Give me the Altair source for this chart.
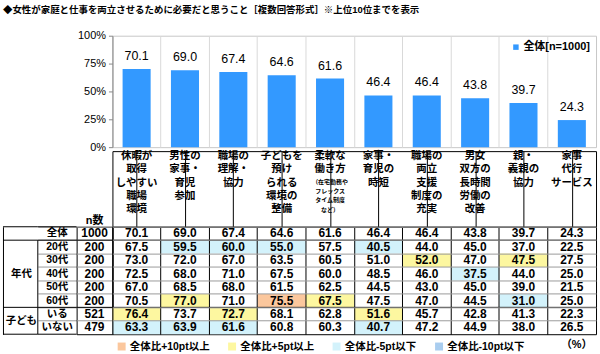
import altair as alt
import pandas as pd

FONT = "Liberation Sans, Noto Sans CJK JP, sans-serif"

title_text = "◆女性が家庭と仕事を両立させるために必要だと思うこと［複数回答形式］※上位10位までを表示"

items = ["休暇が取得しやすい職場環境", "男性の家事・育児参加", "職場の理解・協力",
         "子どもを預けられる環境の整備", "柔軟な働き方", "家事・育児の時短",
         "職場の両立支援制度の充実", "男女双方の長時間労働の改善", "親・義親の協力",
         "家事代行サービス"]
header_labels = ["休暇が\n取得\nしやすい\n職場\n環境", "男性の\n家事・\n育児\n参加", "職場の\n理解・\n協力",
                 "子どもを\n預け\nられる\n環境の\n整備", "柔軟な\n働き方", "家事・\n育児の\n時短",
                 "職場の\n両立\n支援\n制度の\n充実", "男女\n双方の\n長時間\n労働の\n改善",
                 "親・\n義親の\n協力", "家事\n代行\nサービス"]
header_notes = ["", "", "", "", "（在宅勤務や\nフレックス\nタイム制度\nなど）", "", "", "", "", ""]

row_labels = ["全体", "20代", "30代", "40代", "50代", "60代", "いる", "いない"]
row_n = [1000, 200, 200, 200, 200, 200, 521, 479]
group_labels = ["年代", "子ども"]

v_total = [70.1, 69.0, 67.4, 64.6, 61.6, 46.4, 46.4, 43.8, 39.7, 24.3]
v_20s = [67.5, 59.5, 60.0, 55.0, 57.5, 40.5, 44.0, 45.0, 37.0, 22.5]
v_30s = [73.0, 72.0, 67.0, 63.5, 60.5, 51.0, 52.0, 47.0, 47.5, 27.5]
v_40s = [72.5, 68.0, 71.0, 67.5, 60.0, 48.5, 46.0, 37.5, 44.0, 25.0]
v_50s = [67.0, 68.5, 68.0, 61.5, 62.5, 44.5, 43.0, 45.0, 39.0, 21.5]
v_60s = [70.5, 77.0, 71.0, 75.5, 67.5, 47.5, 47.0, 44.5, 31.0, 25.0]
v_kids = [76.4, 73.7, 72.7, 68.1, 62.8, 51.6, 45.7, 42.8, 41.3, 22.3]
v_nokids = [63.3, 63.9, 61.6, 60.8, 60.3, 40.7, 47.2, 44.9, 38.0, 26.5]
table_values = [v_total, v_20s, v_30s, v_40s, v_50s, v_60s, v_kids, v_nokids]

series_label = "全体[n=1000]"
bar_color = "#3399ff"
cat_labels = ["全体比+10pt以上", "全体比+5pt以上", "全体比-5pt以下", "全体比-10pt以下"]
cat_colors = ["#fbc79d", "#fdf7a0", "#d3f2fb", "#a9cdef"]

# layout
W_G, W_S, W_N, W_D = 35, 39, 36, 486
H_BAR, H_GAP, H_HEAD, H_BODY = 112, 4, 76, 108

bar_df = pd.DataFrame({"item": items, "value": v_total, "series": series_label})

cells = []
for r, lab in enumerate(row_labels):
    for c, it in enumerate(items):
        v = table_values[r][c]
        d = round(v - v_total[c], 1)
        if d >= 10:
            cat = cat_labels[0]
        elif d >= 5:
            cat = cat_labels[1]
        elif d <= -10:
            cat = cat_labels[3]
        elif d <= -5:
            cat = cat_labels[2]
        else:
            cat = None
        cells.append({"item": it, "row": lab, "value": v, "cat": cat})
cells_df = pd.DataFrame(cells)
hl_df = cells_df[cells_df["cat"].notna()]

x_scale = alt.Scale(domain=items, paddingInner=0, paddingOuter=0)
y_scale = alt.Scale(domain=row_labels, paddingInner=0, paddingOuter=0)


def blank(w, h):
    return alt.Chart(pd.DataFrame({"t": [""]})).mark_text().encode(
        text="t:N", x=alt.value(0), y=alt.value(0)).properties(
        width=w, height=h, view=alt.ViewBackground(stroke=None))


# ---------------- bar chart ----------------
xb = alt.X("item:N", scale=x_scale,
           axis=alt.Axis(title=None, labels=False, ticks=False, domain=False, grid=True,
                         gridColor="#d9d9d9", bandPosition=0))
yb = alt.Y("value:Q", scale=alt.Scale(domain=[0, 100]),
           axis=alt.Axis(values=[0, 25, 50, 75, 100], labelExpr="datum.value + '%'", title=None,
                         grid=False, tickSize=4, domainColor="#888", tickColor="#888",
                         labelFontSize=11, labelColor="#000", labelPadding=3))
bars = alt.Chart(bar_df).mark_bar(width=alt.RelativeBandSize(0.58)).encode(
    x=xb, y=yb,
    color=alt.Color("series:N", scale=alt.Scale(domain=[series_label], range=[bar_color]),
                    legend=alt.Legend(title=None, orient="top-right", symbolType="square",
                                      symbolSize=30, symbolStrokeWidth=0, labelFontSize=11,
                                      labelFontWeight="bold", offset=6, padding=0, labelOffset=2)))
bar_text = alt.Chart(bar_df).mark_text(baseline="bottom", dy=-6, fontSize=12.5, font=FONT).encode(
    x=xb, y=yb, text=alt.Text("value:Q", format=".1f"))
bar = alt.layer(bars, bar_text).properties(width=W_D, height=H_BAR,
                                           view=alt.ViewBackground(stroke="#c8c8c8"))

# ---------------- header ----------------
head_df = pd.DataFrame({"item": items, "label": header_labels, "note": header_notes})
hx = alt.X("item:N", scale=x_scale,
           axis=alt.Axis(title=None, labels=False, ticks=False, domain=False, grid=True,
                         gridColor="#000", bandPosition=0))
head_main = alt.Chart(head_df).mark_text(baseline="top", fontSize=10.5, fontWeight="bold",
                                         lineBreak="\n", lineHeight=13.3, font=FONT).encode(
    x=hx, y=alt.value(0), text="label:N")
head_note = alt.Chart(head_df).mark_text(baseline="top", fontSize=6, fontWeight="bold",
                                         lineBreak="\n", lineHeight=9.3, font=FONT).encode(
    x=hx, y=alt.value(28), text="note:N")
head = alt.layer(head_main, head_note).properties(width=W_D, height=H_HEAD,
                                                  view=alt.ViewBackground(stroke="#000"))

nhead = alt.Chart(pd.DataFrame({"t": ["n数"]})).mark_text(
    fontSize=11, fontWeight="bold", font=FONT).encode(
    x=alt.value(W_N / 2), y=alt.value(H_HEAD - 6), text="t:N").properties(
    width=W_N, height=H_HEAD, view=alt.ViewBackground(stroke=None))


def hrule(rows, bp, axis, color="#000"):
    return alt.Chart(pd.DataFrame({"row": rows})).mark_rule(color=color, strokeWidth=1).encode(
        y=alt.Y("row:N", scale=y_scale, bandPosition=bp, axis=axis))


grid_axis = alt.Axis(title=None, labels=False, ticks=False, domain=False, grid=True,
                     gridColor="#9a9a9a", bandPosition=0)

# ---------------- body ----------------
bx = alt.X("item:N", scale=x_scale,
           axis=alt.Axis(title="（%）", titleAnchor="end", titleFontSize=11, titleFontWeight="bold",
                         titlePadding=4, titleX=W_D - 4, titleAlign="right", labels=False,
                         ticks=False, domain=False, grid=True,
                         gridColor="#000", bandPosition=0, zindex=1))
by = alt.Y("row:N", scale=y_scale, axis=grid_axis)
fill_rects = alt.Chart(hl_df).mark_rect().encode(
    x=bx, y=by,
    color=alt.Color("cat:N", scale=alt.Scale(domain=cat_labels, range=cat_colors),
                    legend=alt.Legend(title=None, orient="none", legendX=4, legendY=H_BODY + 7,
                                      direction="horizontal", columns=4, symbolType="square",
                                      symbolSize=64, symbolStrokeWidth=0, labelFontSize=10.5,
                                      labelFontWeight="bold", columnPadding=17, labelOffset=3,
                                      padding=0)))
num_text = alt.Chart(cells_df).mark_text(fontSize=12, fontWeight="bold", font=FONT).encode(
    x=bx, y=by, text=alt.Text("value:Q", format=".1f"))
body = alt.layer(fill_rects, num_text, hrule(["20代", "いる"], 0, grid_axis)).properties(
    width=W_D, height=H_BODY, view=alt.ViewBackground(stroke="#000"))

# ---------------- left columns ----------------
n_df = pd.DataFrame({"row": row_labels, "n": row_n})
ny = alt.Y("row:N", scale=y_scale, axis=grid_axis)
ncol = alt.layer(
    alt.Chart(n_df).mark_text(fontSize=12, fontWeight="bold", font=FONT).encode(
        x=alt.value(W_N / 2), y=ny, text="n:Q"),
    hrule(["20代", "いる"], 0, grid_axis),
).properties(width=W_N, height=H_BODY, view=alt.ViewBackground(stroke="#000"))

s_df = pd.DataFrame({"row": row_labels})
sub = alt.layer(
    alt.Chart(s_df).mark_text(fontSize=10.5, fontWeight="bold", font=FONT).encode(
        x=alt.value(W_S / 2), y=ny, text="row:N"),
    hrule(["全体", "20代", "いる"], 0, grid_axis),
    hrule(["いない"], 1, grid_axis),
    alt.Chart(pd.DataFrame({"a": ["20代"], "b": ["いない"]})).mark_rule(color="#000").encode(
        x=alt.value(0),
        y=alt.Y("a:N", scale=y_scale, bandPosition=0, axis=grid_axis),
        y2=alt.Y2("b", bandPosition=1)),
).properties(width=W_S, height=H_BODY, view=alt.ViewBackground(stroke=None))

g_axis = alt.Axis(title=None, labels=False, ticks=False, grid=False, domain=True, domainColor="#000")
grp = alt.layer(
    alt.Chart(pd.DataFrame({"row": ["40代"], "g": [group_labels[0]]})).mark_text(
        fontSize=10.5, fontWeight="bold", font=FONT).encode(
        x=alt.value(W_G / 2 + 1), y=alt.Y("row:N", scale=y_scale, bandPosition=0.5, axis=g_axis),
        text="g:N"),
    alt.Chart(pd.DataFrame({"row": ["いる"], "g": [group_labels[1]]})).mark_text(
        fontSize=10.5, fontWeight="bold", font=FONT).encode(
        x=alt.value(W_G / 2 + 1), y=alt.Y("row:N", scale=y_scale, bandPosition=1, axis=g_axis),
        text="g:N"),
    hrule(["全体", "20代", "いる"], 0, g_axis),
    hrule(["いない"], 1, g_axis),
).properties(width=W_G, height=H_BODY, view=alt.ViewBackground(stroke=None))

chart = alt.concat(
    blank(W_G, H_BAR + H_GAP), blank(W_S, H_BAR + H_GAP), blank(W_N, H_BAR + H_GAP), bar,
    blank(W_G, H_HEAD), blank(W_S, H_HEAD), nhead, head,
    grp, sub, ncol, body,
    columns=4, spacing=0, bounds="flush", align="each",
).resolve_scale(
    color="independent"
).properties(
    title=alt.TitleParams(text=title_text, anchor="start", fontSize=9.5, fontWeight="bold",
                          font=FONT, offset=15, frame="group"),
    padding={"left": 2, "top": 4, "right": 3, "bottom": 0},
    background="white",
).configure(font=FONT).configure_axis(labelFont=FONT, titleFont=FONT).configure_legend(
    labelFont=FONT)

chart.save("out.html", embed_options={"renderer": "svg", "actions": False})
